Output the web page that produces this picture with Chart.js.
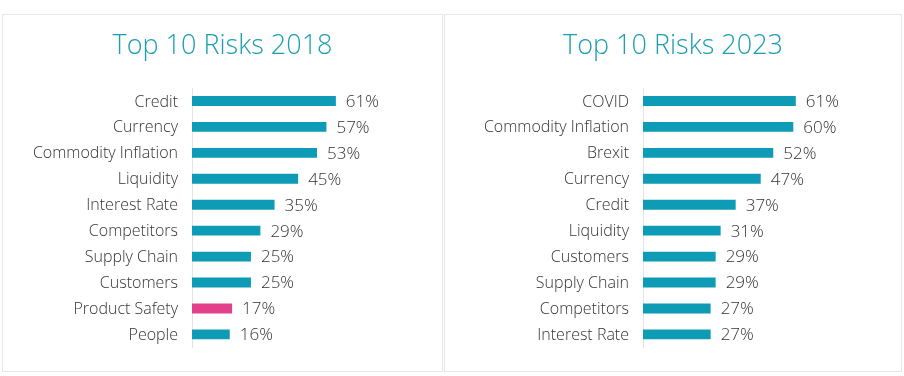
<!DOCTYPE html>
<html>
<head>
<meta charset="utf-8">
<script src="https://cdn.jsdelivr.net/npm/chart.js@4"></script>
<style>
  body { margin: 0; background: #fff; }
  .panel { position: absolute; top: 14px; height: 356px; border: 1px solid #e3e6ea; background: #fff; }
  #p1 { left: 2px; width: 439px; }
  #p2 { left: 444px; width: 456px; }
</style>
</head>
<body>
<div class="panel" id="p1"><canvas id="c1"></canvas></div>
<div class="panel" id="p2"><canvas id="c2"></canvas></div>
<script>
"use strict"

var labels_2018 = ["Credit", "Currency", "Commodity Inflation", "Liquidity", "Interest Rate", "Competitors", "Supply Chain", "Customers", "Product Safety", "People"];
var values_2018 = [61, 57, 53, 45, 35, 29, 25, 25, 17, 16];
var labels_2023 = ["COVID", "Commodity Inflation", "Brexit", "Currency", "Credit", "Liquidity", "Customers", "Supply Chain", "Competitors", "Interest Rate"];
var values_2023 = [61, 60, 52, 47, 37, 31, 29, 29, 27, 27];

var TEAL = "#0e9bb5";
var PINK = "#e2408b";
var FONT = "'Open Sans', sans-serif";

// draws the "61%" text right of each bar
var value_labels = {
    id: "value_labels",
    afterDatasetsDraw: function (chart) {
        var ctx = chart.ctx;
        var meta = chart.getDatasetMeta(0);
        var data = chart.data.datasets[0].data;
        ctx.save();
        ctx.font = "300 17px " + FONT;
        ctx.fillStyle = "#333";
        ctx.textBaseline = "middle";
        ctx.textAlign = "left";
        for (var i = 0; i < meta.data.length; i++) {
            var bar = meta.data[i];
            ctx.fillText(data[i] + "%", bar.x + 10, bar.y + 1);
        }
        ctx.restore();
    }
};

function draw_chart(id, title, labels, values, colors, axis_w, x_max) {
    var ctx = document.getElementById(id).getContext("2d");
    return new Chart(ctx, {
        type: "bar",
        data: {
            labels: labels,
            datasets: [{
                data: values,
                backgroundColor: colors,
                barPercentage: 0.38,
                categoryPercentage: 1
            }]
        },
        options: {
            indexAxis: "y",
            responsive: true,
            maintainAspectRatio: false,
            animation: false,
            layout: { padding: { top: 0, bottom: 18, left: 0, right: 0 } },
            plugins: {
                legend: { display: false },
                tooltip: { enabled: false },
                title: {
                    display: true,
                    text: title,
                    color: "#1b9db3",
                    font: { family: FONT, size: 27, weight: "300" },
                    padding: { top: 15, bottom: 25.6 }
                }
            },
            scales: {
                x: { display: false, min: 0, max: x_max },
                y: {
                    grid: { display: false, drawTicks: false },
                    border: { color: "#e2e4e6", width: 1 },
                    ticks: { color: "#333", padding: 14, labelOffset: 1, font: { family: FONT, size: 16, weight: "300" } },
                    afterFit: function (scale) { scale.width = axis_w; }
                }
            }
        },
        plugins: [value_labels]
    });
}

var colors_2018 = labels_2018.map(function (l) { return l === "Product Safety" ? PINK : TEAL; });
var colors_2023 = labels_2023.map(function () { return TEAL; });

draw_chart("c1", "Top 10 Risks 2018", labels_2018, values_2018, colors_2018, 189, 106);
draw_chart("c2", "Top 10 Risks 2023", labels_2023, values_2023, colors_2023, 198, 103);
</script>
</body>
</html>
